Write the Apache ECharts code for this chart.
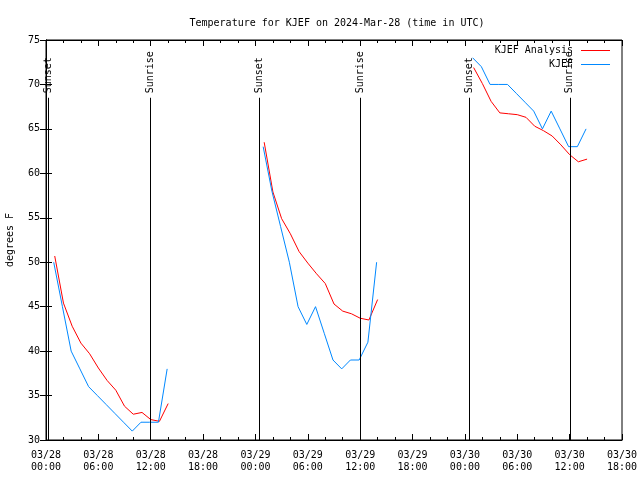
<!DOCTYPE html>
<html><head><meta charset="utf-8">
<script src="https://cdn.jsdelivr.net/npm/echarts@6/dist/echarts.min.js"></script>
<style>html,body{margin:0;padding:0;background:#fff}#c{width:640px;height:480px}</style>
</head><body><div id="c"></div>
<script>
// Reference time: 2024-03-28 00:00 UTC
const START = Date.UTC(2024, 2, 28, 0, 0);
const titleText = 'Temperature for KJEF on 2024-Mar-28 (time in UTC)';
const yAxisName = 'degrees F';

// Hourly analysis (red), each day segment starts at 01:00 UTC
const analysisStarts = ['2024-03-28T01:00Z', '2024-03-29T01:00Z', '2024-03-30T01:00Z'];
const analysis1 = [50.7, 45.4, 42.8, 40.9, 39.7, 38.1, 36.7, 35.6, 33.8, 32.9, 33.1, 32.3, 32.1, 34.1];
const analysis2 = [63.5, 57.9, 54.9, 53.2, 51.2, 49.9, 48.7, 47.6, 45.3, 44.5, 44.2, 43.7, 43.5, 45.8];
const analysis3 = [71.9, 70.1, 68.1, 66.8, 66.7, 66.6, 66.3, 65.3, 64.8, 64.2, 63.2, 62.1, 61.3, 61.6];

// Hourly observations (blue), each day segment starts at 00:53 UTC
const obsStarts = ['2024-03-28T00:53Z', '2024-03-29T00:53Z', '2024-03-30T00:53Z'];
const obs1 = [50, 45, 40, 38, 36, 35, 34, 33, 32, 31, 32, 32, 32, 38];
const obs2 = [63, 58, 54, 50, 45, 43, 45, 42, 39, 38, 39, 39, 41, 50];
const obs3 = [73, 72, 70, 70, 70, 69, 68, 67, 65, 67, 65, 63, 63, 65];

const sunsetTimes = ['2024-03-28T00:18Z', '2024-03-29T00:27Z', '2024-03-30T00:29Z'];
const sunriseTimes = ['2024-03-28T11:58Z', '2024-03-29T11:59Z', '2024-03-30T12:01Z'];

const FONT = 'DejaVu Sans Mono';
const hrs = s => (Date.parse(s) - START) / 3600000;
const seg = (startStr, vals) => { const h0 = hrs(startStr); return vals.map((v, i) => [h0 + i, v]); };
const pad = n => String(n).padStart(2, '0');
const fmtX = v => {
  const d = new Date(START + v * 3600000);
  return pad(d.getUTCMonth() + 1) + '/' + pad(d.getUTCDate()) + '\n' + pad(d.getUTCHours()) + ':' + pad(d.getUTCMinutes());
};

const RED = '#ff0000', BLUE = '#0088ff';
const lineSeries = (name, color, data) => ({
  name, type: 'line', data, symbol: 'none', xAxisIndex: 0, yAxisIndex: 0,
  lineStyle: { color, width: 1 }, itemStyle: { color }, z: 3
});

const sunEvents = sunsetTimes.map(t => ({ name: 'Sunset', h: hrs(t) }))
  .concat(sunriseTimes.map(t => ({ name: 'Sunrise', h: hrs(t) })));

const xCommon = {
  type: 'value', min: 0, max: 66, interval: 6,
  axisLine: { lineStyle: { color: '#000', width: 1 } },
  axisTick: { inside: true, length: 6, lineStyle: { color: '#000' } },
  minorTick: { show: true, splitNumber: 3, length: 3, lineStyle: { color: '#000' } },
  splitLine: { show: false }
};
const yCommon = {
  type: 'value', min: 30, max: 75, interval: 5,
  axisLine: { show: true, lineStyle: { color: '#000', width: 1 } },
  axisTick: { show: true, inside: true, length: 6, lineStyle: { color: '#000' } },
  splitLine: { show: false }
};

const option = {
  animation: false,
  backgroundColor: '#fff',
  title: {
    text: titleText, left: 332, top: 13, textAlign: 'center',
    textStyle: { fontFamily: FONT, fontSize: 10, fontWeight: 'normal', color: '#000' }
  },
  legend: {
    data: [
      { name: 'KJEF Analysis', icon: 'rect', itemStyle: { color: RED, borderWidth: 0 } },
      { name: 'KJEF', icon: 'rect', itemStyle: { color: BLUE, borderWidth: 0 } }
    ],
    orient: 'vertical', right: 30, top: 44, padding: 0,
    align: 'right', itemWidth: 29, itemHeight: 1, itemGap: 1,
    textStyle: { fontFamily: FONT, fontSize: 10, color: '#000', padding: [0, 3, 0, 0], lineHeight: 13 }
  },
  grid: { left: 46, right: 18, top: 40, bottom: 40, show: true, borderColor: '#000', borderWidth: 1, containLabel: false, outerBoundsMode: 'none' },
  xAxis: [
    Object.assign({}, xCommon, {
      position: 'bottom',
      axisLabel: { formatter: fmtX, fontFamily: FONT, fontSize: 10, color: '#000', margin: 9, lineHeight: 12, showMinLabel: true, showMaxLabel: true }
    }),
    Object.assign({}, xCommon, { position: 'top', axisLabel: { show: false } })
  ],
  yAxis: [
    Object.assign({}, yCommon, {
      position: 'left', name: yAxisName, nameLocation: 'middle', nameGap: 31, nameRotate: 90,
      nameTextStyle: { fontFamily: FONT, fontSize: 10, color: '#000' },
      axisLabel: { fontFamily: FONT, fontSize: 10, color: '#000', margin: 6 }
    }),
    Object.assign({}, yCommon, { position: 'right', axisLabel: { show: false } })
  ],
  series: [
    lineSeries('KJEF Analysis', RED, seg(analysisStarts[0], analysis1)),
    lineSeries('KJEF Analysis', RED, seg(analysisStarts[1], analysis2)),
    lineSeries('KJEF Analysis', RED, seg(analysisStarts[2], analysis3)),
    lineSeries('KJEF', BLUE, seg(obsStarts[0], obs1)),
    lineSeries('KJEF', BLUE, seg(obsStarts[1], obs2)),
    lineSeries('KJEF', BLUE, seg(obsStarts[2], obs3)),
    {
      name: 'sunlines', type: 'line', data: [], xAxisIndex: 0, yAxisIndex: 0, silent: true,
      markLine: {
        silent: true, symbol: 'none', animation: false,
        lineStyle: { color: '#000', width: 1, type: 'solid', opacity: 1 },
        label: { show: false },
        data: sunEvents.map(e => [{ coord: [e.h, 30] }, { coord: [e.h, 68.5] }])
      }
    },
    {
      name: 'sunlabels', type: 'scatter', xAxisIndex: 0, yAxisIndex: 0, silent: true,
      symbol: 'circle', symbolSize: 0, itemStyle: { color: '#000', opacity: 1 },
      data: sunEvents.map(e => ({ name: e.name, value: [e.h, 69.0] })),
      label: {
        show: true, formatter: p => p.name, position: 'inside', rotate: 90,
        align: 'left', verticalAlign: 'middle',
        fontFamily: FONT, fontSize: 10, color: '#000', textBorderWidth: 0
      }
    }
  ]
};
const chart = echarts.init(document.getElementById('c'), null, { renderer: 'canvas' });
chart.setOption(option);
</script></body></html>
